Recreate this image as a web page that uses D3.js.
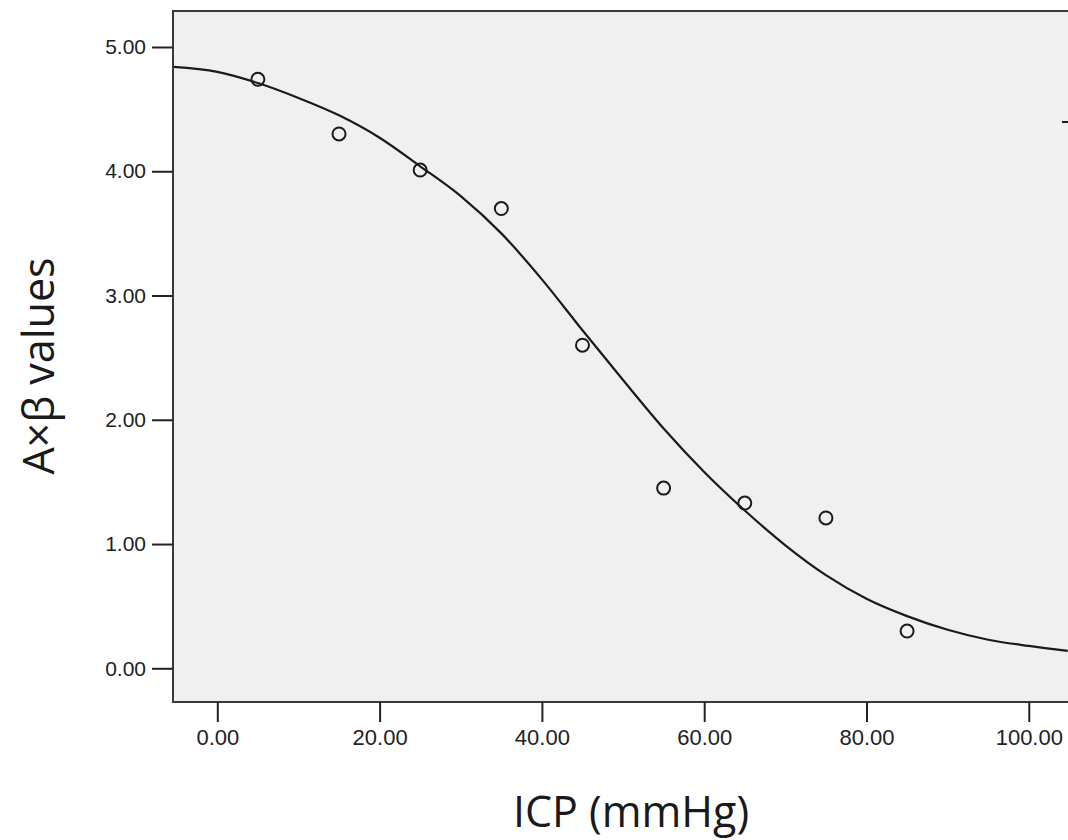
<!DOCTYPE html>
<html>
<head>
<meta charset="utf-8">
<script src="https://cdn.jsdelivr.net/npm/d3@7"></script>
<style>
  html, body { margin: 0; padding: 0; background: #fff; }
  svg { display: block; }
</style>
</head>
<body>
<svg id="chart" width="1068" height="840"></svg>
<script>
// ---- data ----
const icp = [5, 15, 25, 35, 45, 55, 65, 75, 85];
const abValues = [4.74, 4.30, 4.01, 3.70, 2.60, 1.45, 1.33, 1.21, 0.30];
const fitX = [-5.46, 0, 5, 10, 15, 20, 25, 30, 35, 40, 45, 50, 55, 60, 65, 70, 75, 80, 85, 90, 95, 100, 104.8];
const fitY = [4.84, 4.80, 4.71, 4.59, 4.45, 4.27, 4.04, 3.80, 3.50, 3.13, 2.72, 2.32, 1.93, 1.58, 1.27, 0.99, 0.75, 0.56, 0.42, 0.31, 0.23, 0.18, 0.14];
const xTicks = [0, 20, 40, 60, 80, 100];
const yTicks = [0, 1, 2, 3, 4, 5];
const xTitle = "ICP (mmHg)";
const yTitle = "A×β values";

// ---- layout ----
const svg = d3.select("#chart");
const plotLeft = 173, plotTop = 11, plotBottom = 702, plotRight = 1080;

const x = d3.scaleLinear().domain([0, 100]).range([217.3, 1028.8]);
const y = d3.scaleLinear().domain([0, 5]).range([668.3, 47]);

svg.append("defs").append("clipPath").attr("id", "clip")
  .append("rect")
  .attr("x", plotLeft).attr("y", plotTop)
  .attr("width", plotRight - plotLeft).attr("height", plotBottom - plotTop);

// plot background
svg.append("rect")
  .attr("x", plotLeft).attr("y", plotTop)
  .attr("width", plotRight - plotLeft).attr("height", plotBottom - plotTop)
  .attr("fill", "#f0f0f0");

// fit curve
const line = d3.line()
  .x((d, i) => x(fitX[i]))
  .y((d, i) => y(fitY[i]))
  .curve(d3.curveMonotoneX);

svg.append("path")
  .datum(fitX)
  .attr("clip-path", "url(#clip)")
  .attr("d", line)
  .attr("fill", "none")
  .attr("stroke", "#1a1a1a")
  .attr("stroke-width", 2.2);

// points
svg.append("g").selectAll("circle")
  .data(icp)
  .join("circle")
  .attr("cx", (d) => x(d))
  .attr("cy", (d, i) => y(abValues[i]))
  .attr("r", 6.5)
  .attr("fill", "none")
  .attr("stroke", "#1a1a1a")
  .attr("stroke-width", 2);

// legend marker fragment at right edge
svg.append("line")
  .attr("x1", 1062).attr("x2", 1080)
  .attr("y1", 122).attr("y2", 122)
  .attr("stroke", "#1a1a1a").attr("stroke-width", 2);

// frame
svg.append("path")
  .attr("d", `M${plotRight},${plotTop}H${plotLeft}V${plotBottom}H${plotRight}`)
  .attr("fill", "none")
  .attr("stroke", "#3a3a3a")
  .attr("stroke-width", 2);

// axes
const yAxis = d3.axisLeft(y).tickValues(yTicks).tickSize(21).tickPadding(6)
  .tickFormat(d3.format(".2f"));
const gy = svg.append("g").attr("transform", `translate(${plotLeft},0)`).call(yAxis);
gy.select(".domain").remove();
gy.selectAll(".tick line").attr("stroke", "#222").attr("stroke-width", 2);
gy.selectAll(".tick text")
  .attr("font-family", "'Liberation Sans', Arial, sans-serif")
  .attr("font-size", 21).attr("fill", "#222");

const xAxis = d3.axisBottom(x).tickValues(xTicks).tickSize(20).tickPadding(7)
  .tickFormat(d3.format(".2f"));
const gx = svg.append("g").attr("transform", `translate(0,${plotBottom})`).call(xAxis);
gx.select(".domain").remove();
gx.selectAll(".tick line").attr("stroke", "#222").attr("stroke-width", 2);
gx.selectAll(".tick text")
  .attr("font-family", "'Liberation Sans', Arial, sans-serif")
  .attr("font-size", 22).attr("fill", "#222");

// titles
svg.append("text")
  .attr("x", 631).attr("y", 827)
  .attr("text-anchor", "middle")
  .attr("font-family", "'Open Sans', 'Noto Sans', sans-serif")
  .attr("font-size", 43)
  .attr("fill", "#1a1a1a")
  .text(xTitle);

svg.append("text")
  .attr("transform", "translate(54,366) rotate(-90)")
  .attr("text-anchor", "middle")
  .attr("font-family", "'Open Sans', 'Noto Sans', sans-serif")
  .attr("font-size", 43)
  .attr("fill", "#1a1a1a")
  .text(yTitle);
</script>
</body>
</html>
